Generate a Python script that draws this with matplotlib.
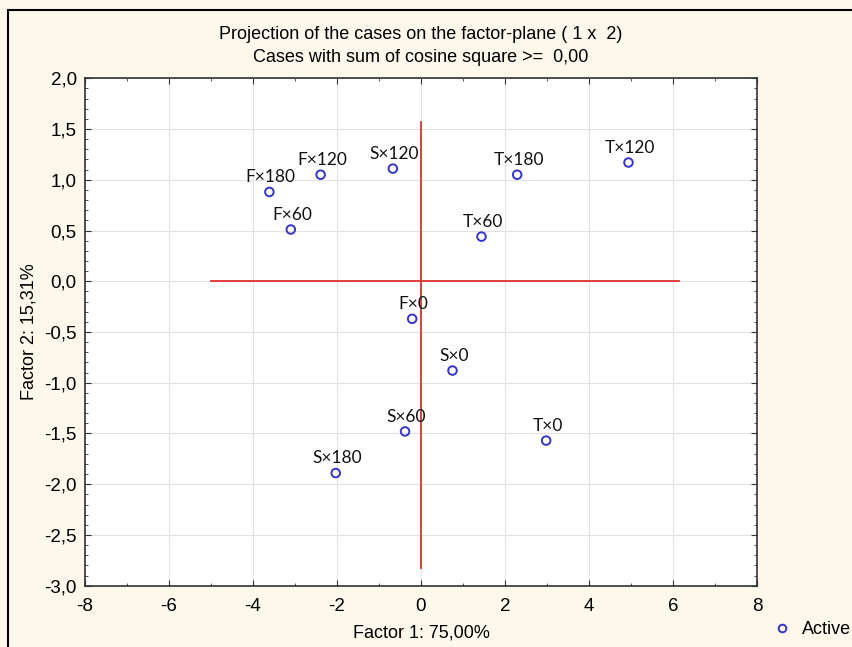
import matplotlib
matplotlib.use("Agg")
import matplotlib.pyplot as plt
from matplotlib.ticker import MultipleLocator, FuncFormatter
from matplotlib.lines import Line2D
from matplotlib.patches import Rectangle

# case coordinates on factor 1 / factor 2
labels = ["F×180", "F×120", "S×120", "F×60", "T×180", "T×120", "T×60",
          "F×0", "S×0", "S×60", "T×0", "S×180"]
factor1 = [-3.61, -2.39, -0.67, -3.10, 2.29, 4.94, 1.44,
           -0.21, 0.75, -0.38, 2.98, -2.03]
factor2 = [0.88, 1.05, 1.11, 0.51, 1.05, 1.17, 0.44,
           -0.37, -0.88, -1.48, -1.57, -1.89]

# red reference axes through origin
hline_x = [-5.0, 6.15]
vline_y = [1.57, -2.83]

plt.rcParams['font.family'] = ['Liberation Sans', 'DejaVu Sans']

fig = plt.figure(figsize=(8.53, 6.47), dpi=100, facecolor="#fdf8ec")
ax = fig.add_axes([85/853, 1-585.7/647, (757-85)/853, (585.7-78.3)/647])
ax.set_facecolor("white")

ax.grid(True, which="major", color="#e2e2e2", lw=0.8, zorder=0)
ax.plot(hline_x, [0, 0], color="#e03030", lw=1.3, zorder=2)
ax.plot([0, 0], vline_y, color="#e03030", lw=1.3, zorder=2)

ax.scatter(factor1, factor2, s=38, facecolors="none", edgecolors="#3535c8",
           linewidths=1.4, zorder=3)
for lab, x, y in zip(labels, factor1, factor2):
    ax.annotate(lab, (x, y), xytext=(1, 5), textcoords="offset points",
                ha="center", va="bottom", fontsize=12.5, family="Lato",
                color="#111111", zorder=4)

ax.set_xlim(-8, 8)
ax.set_ylim(-3, 2)
ax.xaxis.set_major_locator(MultipleLocator(2))
ax.xaxis.set_minor_locator(MultipleLocator(1))
ax.yaxis.set_major_locator(MultipleLocator(0.5))
ax.yaxis.set_minor_locator(MultipleLocator(0.1))
ax.yaxis.set_major_formatter(FuncFormatter(lambda v, p: f"{v:.1f}".replace(".", ",")))
ax.xaxis.set_major_formatter(FuncFormatter(lambda v, p: f"{v:.0f}"))
ax.tick_params(which="both", direction="in", top=True, right=True, color="#333333")
ax.tick_params(which="major", length=4, labelsize=13.5)
ax.tick_params(axis="x", which="major", pad=9)
ax.tick_params(axis="y", which="major", pad=6)
ax.tick_params(which="minor", length=2)
for s in ax.spines.values():
    s.set_color("#333333")
    s.set_linewidth(1.2)

ax.set_xlabel("Factor 1: 75,00%", fontsize=13, labelpad=7)
ax.set_ylabel("Factor 2: 15,31%", fontsize=13, labelpad=5)
ax.set_title("Projection of the cases on the factor-plane ( 1 x  2)\n"
             "Cases with sum of cosine square >=  0,00",
             fontsize=13, linespacing=1.45, pad=12)

handle = Line2D([], [], ls="none", marker="o", markersize=5.5, markerfacecolor="none",
                markeredgecolor="#3535c8", markeredgewidth=1.4)
fig.legend([handle], ["Active"], loc="center left", bbox_to_anchor=(755/853, 1-630/647),
           frameon=False, fontsize=13, handletextpad=0.5, handlelength=1.2)

fig.patches.append(Rectangle((8/853, -0.1), 1.2, 1-10/647+0.1, fill=False,
                             lw=1.5, ec="black", transform=fig.transFigure))

fig.savefig("out.png", dpi=100, facecolor=fig.get_facecolor())
